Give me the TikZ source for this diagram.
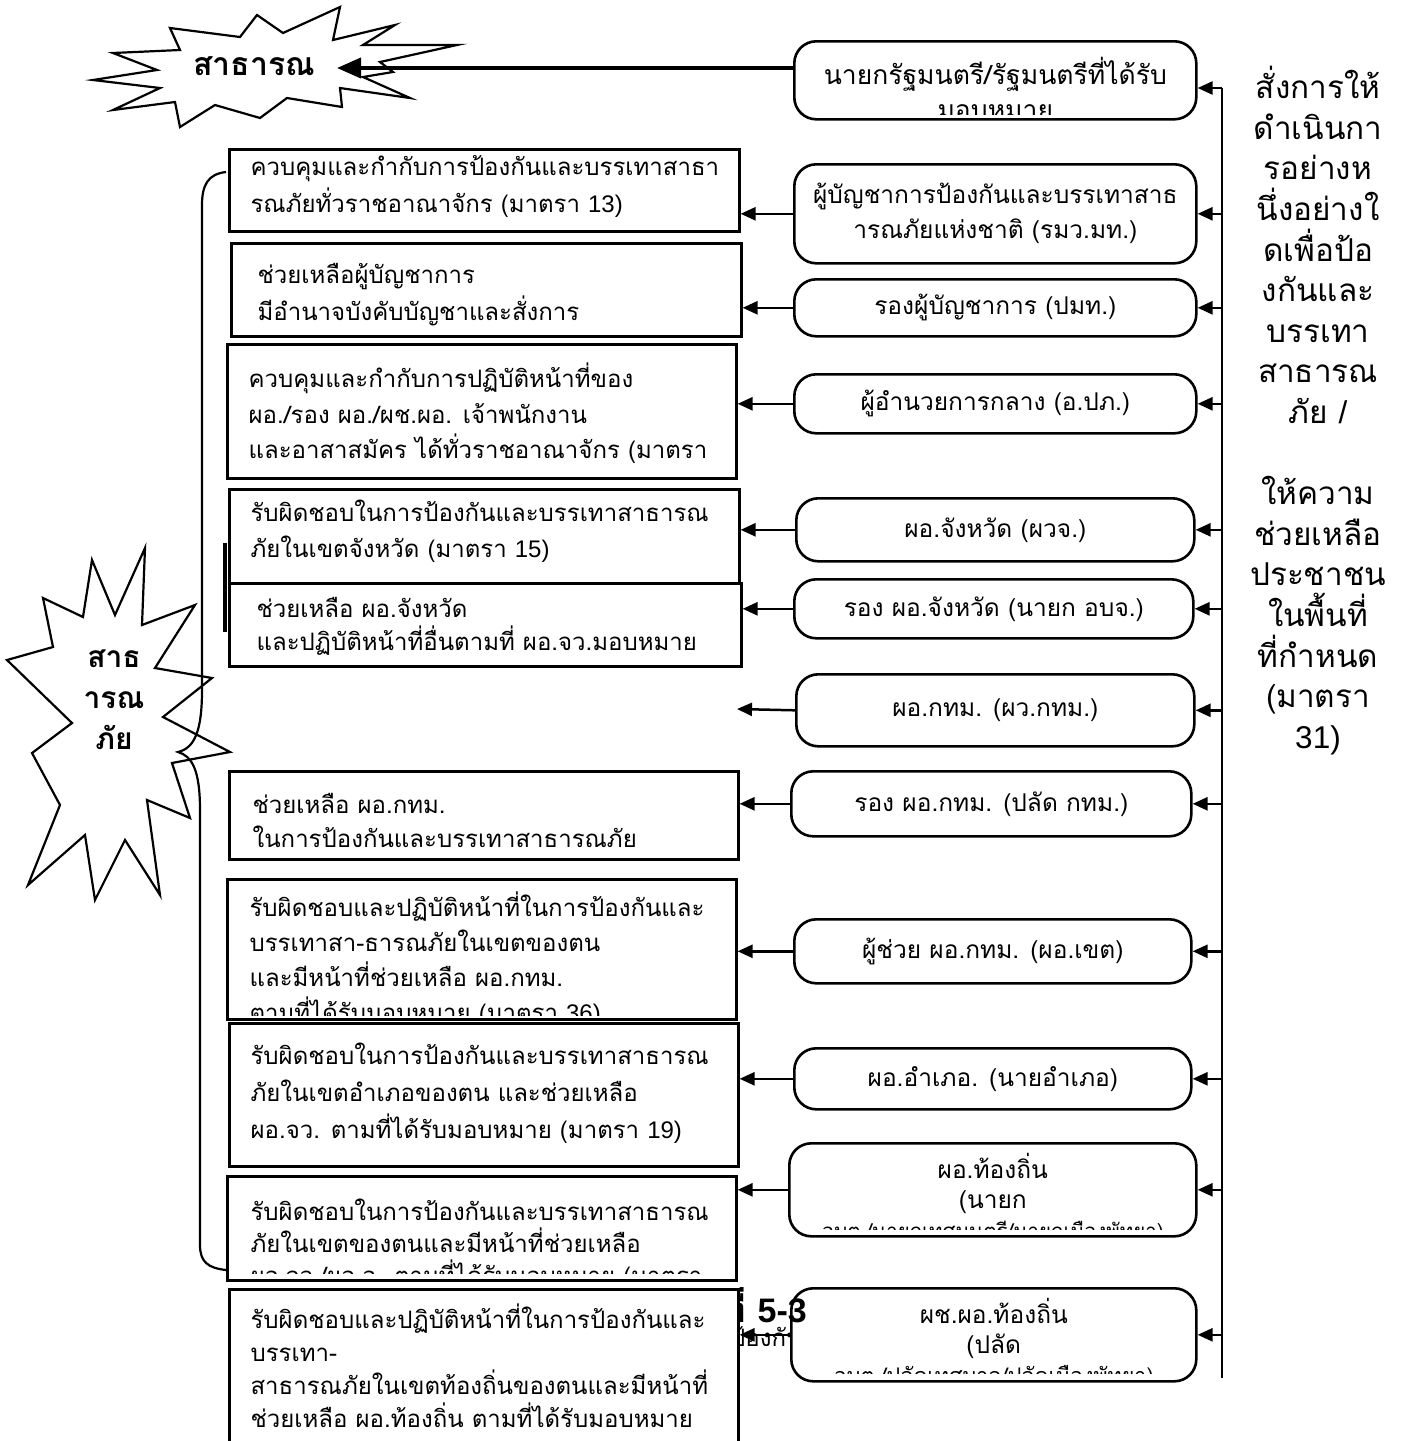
\documentclass[tikz,border=0pt]{standalone}
\usepackage{fontspec}
\setmainfont[Script=Thai]{Loma}
\newfontfamily\arialfont{Liberation Sans}
\usetikzlibrary{arrows.meta,calc}
\newcommand\fl{\rule{0pt}{25pt}}
\newcommand\bxf[1]{\fontsize{24}{#1}\selectfont}
\newcommand\rxf[1]{\fontsize{24.5}{#1}\selectfont}
\begin{document}
\begin{tikzpicture}[x=1pt,y=-1pt,
  lbox/.style={draw, line width=2.6pt, fill=white, inner sep=0pt, anchor=north west, rectangle},
  rbox/.style={draw, line width=2.6pt, fill=white, inner sep=0pt, anchor=north west, rounded corners=22pt, align=center, font=\rxf{35}},
  intext/.style={anchor=north west, inner sep=0pt, align=left, minimum width=0pt, minimum height=0pt},
  ctext/.style={anchor=north, inner sep=0pt, align=center, minimum width=0pt, minimum height=0pt},
  conn/.style={line width=2.5pt, -{Triangle[length=15pt,width=13pt]}},
  spine/.style={line width=2.5pt},
  burst/.style={draw, line width=2.2pt, fill=white, line join=miter},
  bigtxt/.style={font=\bfseries\fontsize{32}{42}\selectfont, align=center, inner sep=0pt}
]
\useasboundingbox (0,0) rectangle (1403,1441);
\fill[white] (0,0) rectangle (1403,1441);

% caption fragment hidden behind R12
\node[anchor=west, font=\fontsize{24}{30}\selectfont, inner sep=0pt] (cap2) at (730,1337) {ป้องกัน};

% top starburst
\draw[burst] (93,80) -- (157,70) -- (113,53) -- (180,50) -- (170,28) -- (240,37) -- (257,15) -- (283,33) -- (340,7) -- (333,40) -- (395,25) -- (363,45) -- (457,45) -- (380,62) -- (393,72) -- (363,77) -- (410,98) -- (340,88) -- (342,107) -- (287,98) -- (260,118) -- (215,105) -- (180,127) -- (175,102) -- (113,110) -- (160,88) -- cycle;
\node[bigtxt] (S1) at (254,66) {สาธารณ};
\coordinate (S1tip) at (337,68);

% left starburst
\draw[burst] (92,560) -- (115,615) -- (145,548) -- (142,625) -- (195,605) -- (155,668) -- (212,678) -- (163,717) -- (230,752) -- (172,763) -- (190,818) -- (147,800) -- (160,895) -- (125,840) -- (95,900) -- (85,835) -- (28,885) -- (60,805) -- (32,753) -- (72,723) -- (7,660) -- (53,647) -- (43,598) -- (83,617) -- cycle;
\node[bigtxt, font=\bfseries\fontsize{30}{41}\selectfont] (S2) at (114,700) {สาธ\\ารณ\\ภัย};

% left brace
\draw[line width=2.2pt] (226,172) .. controls (208,174) and (202,185) .. (202,205) -- (202,690) .. controls (202,730) and (195,748) .. (178,752) .. controls (192,756) and (200,770) .. (200,810) -- (200,1245) .. controls (200,1262) and (208,1268) .. (226,1270);

% left boxes
\node[lbox, minimum width=510pt, minimum height=82pt, path picture={\node[intext, font=\bxf{37}] at ([xshift=20pt,yshift=0pt]path picture bounding box.north west) {\fl ควบคุมและกำกับการป้องกันและบรรเทาสาธา\\รณภัยทั่วราชอาณาจักร (มาตรา {\arialfont 13)}};}] (L1) at (228,148) {};
\node[lbox, minimum width=510pt, minimum height=93pt, path picture={\node[intext, font=\bxf{37}] at ([xshift=25pt,yshift=-14pt]path picture bounding box.north west) {\fl ช่วยเหลือผู้บัญชาการ\\มีอำนาจบังคับบัญชาและสั่งการ};}] (L2) at (230,242) {};
\node[lbox, minimum width=509pt, minimum height=134pt, path picture={\node[intext, font=\bxf{35.5}] at ([xshift=20pt,yshift=-17pt]path picture bounding box.north west) {\fl ควบคุมและกำกับการปฏิบัติหน้าที่ของ\\ผอ./รอง ผอ./ผช.ผอ. เจ้าพนักงาน\\และอาสาสมัคร ได้ทั่วราชอาณาจักร (มาตรา};}] (L3) at (226,343) {};
\node[lbox, minimum width=510pt, minimum height=94pt, path picture={\node[intext, font=\bxf{36}] at ([xshift=20pt,yshift=-6pt]path picture bounding box.north west) {\fl รับผิดชอบในการป้องกันและบรรเทาสาธารณ\\ภัยในเขตจังหวัด (มาตรา {\arialfont 15)}};}] (L4) at (228,488) {};
\node[lbox, minimum width=512pt, minimum height=83pt, path picture={\node[intext, font=\bxf{33}] at ([xshift=26pt,yshift=-8pt]path picture bounding box.north west) {\fl ช่วยเหลือ ผอ.จังหวัด\\และปฏิบัติหน้าที่อื่นตามที่ ผอ.จว.มอบหมาย};}] (L5) at (228,582) {};
\node[lbox, minimum width=509pt, minimum height=88pt, path picture={\node[intext, font=\bxf{34}] at ([xshift=22pt,yshift=-16pt]path picture bounding box.north west) {\fl ช่วยเหลือ ผอ.กทม.\\ในการป้องกันและบรรเทาสาธารณภัย};}] (L6) at (228,770) {};
\node[lbox, minimum width=509pt, minimum height=140pt, path picture={\clip ([yshift=4pt]path picture bounding box.south west) rectangle (path picture bounding box.north east); \node[intext, font=\bxf{35}] at ([xshift=21pt,yshift=-11pt]path picture bounding box.north west) {\fl รับผิดชอบและปฏิบัติหน้าที่ในการป้องกันและ\\บรรเทาสา-ธารณภัยในเขตของตน\\และมีหน้าที่ช่วยเหลือ ผอ.กทม.\\ตามที่ได้รับมอบหมาย (มาตรา {\arialfont 36)}};}] (L7) at (226,878) {};
\node[lbox, minimum width=509pt, minimum height=143pt, path picture={\node[intext, font=\bxf{37}] at ([xshift=20pt,yshift=-15pt]path picture bounding box.north west) {\fl รับผิดชอบในการป้องกันและบรรเทาสาธารณ\\ภัยในเขตอำเภอของตน และช่วยเหลือ\\ผอ.จว. ตามที่ได้รับมอบหมาย (มาตรา {\arialfont 19)}};}] (L8) at (228,1022) {};
\node[lbox, minimum width=509pt, minimum height=104pt, path picture={\clip ([yshift=7pt]path picture bounding box.south west) rectangle (path picture bounding box.north east); \node[intext, font=\bxf{32}] at ([xshift=22pt,yshift=-18pt]path picture bounding box.north west) {\fl รับผิดชอบในการป้องกันและบรรเทาสาธารณ\\ภัยในเขตของตนและมีหน้าที่ช่วยเหลือ\\ผอ.จว./ผอ.อ. ตามที่ได้รับมอบหมาย (มาตรา};}] (L9) at (226,1175) {};
\draw[line width=4pt] (225,543) -- (225,632);

% right rounded boxes
\node[rbox, minimum width=402pt, minimum height=78pt, path picture={\clip ([yshift=5pt]path picture bounding box.south west) rectangle (path picture bounding box.north east); \node[ctext, font=\fontsize{26.5}{35}\selectfont] at ([yshift=-15pt]path picture bounding box.north) {\fl นายกรัฐมนตรี/รัฐมนตรีที่ได้รับ\\มอบหมาย};}] (R1) at (793,40) {};
\node[rbox, minimum width=402pt, minimum height=99pt] (R2) at (793,163) {ผู้บัญชาการป้องกันและบรรเทาสาธ\\ารณภัยแห่งชาติ (รมว.มท.)};
\node[rbox, minimum width=402pt, minimum height=57pt] (R3) at (793,278) {รองผู้บัญชาการ (ปมท.)};
\node[rbox, minimum width=402pt, minimum height=59pt] (R4) at (793,373) {ผู้อำนวยการกลาง (อ.ปภ.)};
\node[rbox, minimum width=398pt, minimum height=63pt] (R5) at (795,497) {ผอ.จังหวัด (ผวจ.)};
\node[rbox, minimum width=399pt, minimum height=59pt] (R6) at (793,578) {รอง ผอ.จังหวัด (นายก อบจ.)};
\node[rbox, minimum width=398pt, minimum height=72pt] (R7) at (795,673) {ผอ.กทม. (ผว.กทม.)};
\node[rbox, minimum width=400pt, minimum height=65pt] (R8) at (790,770) {รอง ผอ.กทม. (ปลัด กทม.)};
\node[rbox, minimum width=397pt, minimum height=64pt] (R9) at (793,918) {ผู้ช่วย ผอ.กทม. (ผอ.เขต)};
\node[rbox, minimum width=397pt, minimum height=61pt] (R10) at (793,1047) {ผอ.อำเภอ. (นายอำเภอ)};
\node[rbox, minimum width=407pt, minimum height=93pt, path picture={\clip ([yshift=7pt]path picture bounding box.south west) rectangle (path picture bounding box.north east); \node[ctext, font=\rxf{30}] at ([yshift=-9pt]path picture bounding box.north) {\fl ผอ.ท้องถิ่น\\(นายก\\{\fontsize{20.5}{30}\selectfont อบต./นายกเทศมนตรี/นายกเมืองพัทยา)}};}] (R11) at (788,1142) {};
\node[rbox, minimum width=405pt, minimum height=93pt, path picture={\clip ([yshift=8pt]path picture bounding box.south west) rectangle (path picture bounding box.north east); \node[ctext, font=\rxf{30}] at ([yshift=-9pt]path picture bounding box.north) {\fl ผช.ผอ.ท้องถิ่น\\(ปลัด\\{\fontsize{21.5}{30}\selectfont อบต./ปลัดเทศบาล/ปลัดเมืองพัทยา)}};}] (R12) at (790,1287) {};

% caption fragment that lies over R12 and under L10
\node[anchor=east, font=\bfseries\fontsize{34}{38}\selectfont, inner sep=0pt] (cap1) at (807,1305) {ที่ {\arialfont 5-3}};

\node[lbox, minimum width=509pt, minimum height=190pt, path picture={\node[intext, font=\bxf{33}] at ([xshift=20pt,yshift=-13pt]path picture bounding box.north west) {\fl รับผิดชอบและปฏิบัติหน้าที่ในการป้องกันและ\\บรรเทา-\\สาธารณภัยในเขตท้องถิ่นของตนและมีหน้าที่\\ช่วยเหลือ ผอ.ท้องถิ่น ตามที่ได้รับมอบหมาย};}] (L10) at (228,1288) {};

% connectors
\coordinate (c7) at (737,709);
\draw[line width=4pt, -{Triangle[length=24pt,width=20pt]}] (R1.west |- S1tip) -- (S1tip);
\draw[conn] (R2.west) -- (R2.west -| L1.east);
\draw[conn] (R3.west) -- (R3.west -| L2.east);
\draw[conn] (R4.west) -- (R4.west -| L3.east);
\draw[conn] (R5.west) -- (R5.west -| L4.east);
\draw[conn] (R6.west) -- (R6.west -| L5.east);
\draw[conn] (R7.west) -- (c7);
\draw[conn] (R8.west) -- (R8.west -| L6.east);
\draw[conn] (R9.west) -- (R9.west -| L7.east);
\draw[conn] (R10.west) -- (R10.west -| L8.east);
\draw[conn] (R11.west) -- (R11.west -| L9.east);
\draw[conn] (R12.west) -- (R12.west -| L10.east);

% spine
\coordinate (sp1) at (1222,88);
\coordinate (sp2) at (1222,1378);
\draw[spine] (sp1) -- (sp2);
\draw[conn] (sp1) -- (sp1 -| R1.east);
\foreach \r in {R2,R3,R4,R5,R6,R7,R8,R9,R10,R11,R12} {
  \draw[conn] (sp1 |- \r.east) -- (\r.east);
}

% right column text
\node[anchor=north, align=center, inner sep=0pt, font=\fontsize{31.5}{40.6}\selectfont] (RT) at (1318,66) {\rule{0pt}{32pt}สั่งการให้\\ดำเนินกา\\รอย่างห\\นึ่งอย่างใ\\ดเพื่อป้อ\\งกันและ\\บรรเทา\\สาธารณ\\ภัย {\arialfont /}\\[40.6pt]ให้ความ\\ช่วยเหลือ\\ประชาชน\\ในพื้นที่\\ที่กำหนด\\(มาตรา\\{\arialfont 31)}};
\end{tikzpicture}
\end{document}
